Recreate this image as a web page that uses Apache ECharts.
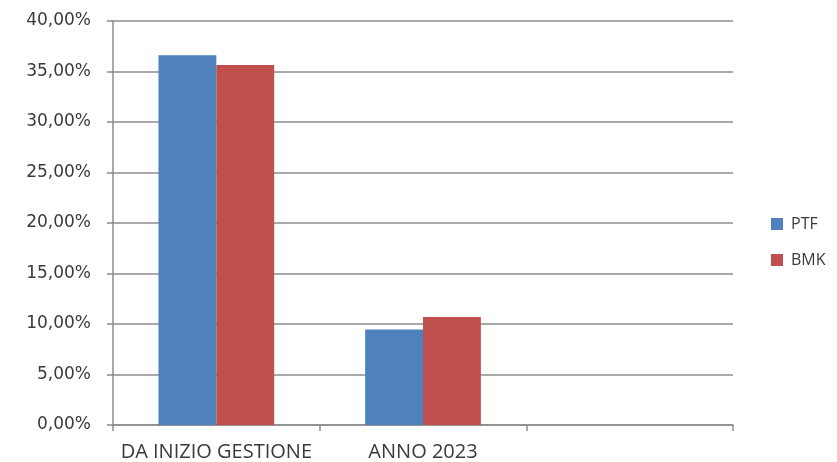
<!DOCTYPE html>
<html>
<head>
<meta charset="utf-8">
<style>
  html, body { margin: 0; padding: 0; background: #ffffff; }
  #chart { width: 837px; height: 462px; }
</style>
<script src="https://cdn.jsdelivr.net/npm/echarts@6/dist/echarts.min.js"></script>
</head>
<body>
<div id="chart"></div>
<script>
// Rendimenti in percentuale
const categories = ['DA INIZIO GESTIONE', 'ANNO 2023', ''];
const ptfValues = [36.6, 9.45, null];
const bmkValues = [35.65, 10.7, null];
const seriesNames = ['PTF', 'BMK'];

const axisGray = '#8c8c8c';
const textColor = '#3a3a3a';
const fontFamily = '"Open Sans", "Noto Sans", sans-serif';
const wideFont = '"DejaVu Sans", "Open Sans", sans-serif';

const chart = echarts.init(document.getElementById('chart'), null, { renderer: 'canvas' });

chart.setOption({
  animation: false,
  backgroundColor: '#ffffff',
  textStyle: { fontFamily: fontFamily },
  grid: { left: 113, right: 104, top: 21, bottom: 37, containLabel: false },
  legend: {
    orient: 'vertical',
    left: 771,
    top: 216,
    padding: 0,
    itemWidth: 12,
    itemHeight: 12,
    itemGap: 20,
    icon: 'rect',
    textStyle: { fontSize: 16, color: textColor, fontFamily: fontFamily, lineHeight: 16, padding: [0, 0, 0, 3] },
    data: seriesNames
  },
  xAxis: {
    type: 'category',
    data: categories,
    boundaryGap: true,
    axisLine: { show: true, lineStyle: { color: axisGray, width: 1.5 } },
    axisTick: { show: true, length: 6, alignWithLabel: false, lineStyle: { color: axisGray, width: 1.5 } },
    axisLabel: { color: textColor, fontSize: 20, margin: 17, fontFamily: fontFamily, interval: 0 },
    splitLine: { show: false }
  },
  yAxis: {
    type: 'value',
    min: 0,
    max: 40,
    interval: 5,
    axisLine: { show: true, lineStyle: { color: axisGray, width: 1.5 } },
    axisTick: { show: true, length: 6, lineStyle: { color: axisGray, width: 1.5 } },
    axisLabel: {
      color: textColor,
      fontSize: 17,
      margin: 22,
      fontFamily: wideFont,
      formatter: v => v.toFixed(2).replace('.', ',') + '%'
    },
    splitLine: { show: true, lineStyle: { color: axisGray, width: 1.5 } }
  },
  series: [
    {
      name: seriesNames[0],
      type: 'bar',
      data: ptfValues,
      barGap: '0%',
      barCategoryGap: '44%',
      itemStyle: { color: '#4f81bd' }
    },
    {
      name: seriesNames[1],
      type: 'bar',
      data: bmkValues,
      barGap: '0%',
      barCategoryGap: '44%',
      itemStyle: { color: '#c0504d' }
    }
  ]
});
</script>
</body>
</html>
